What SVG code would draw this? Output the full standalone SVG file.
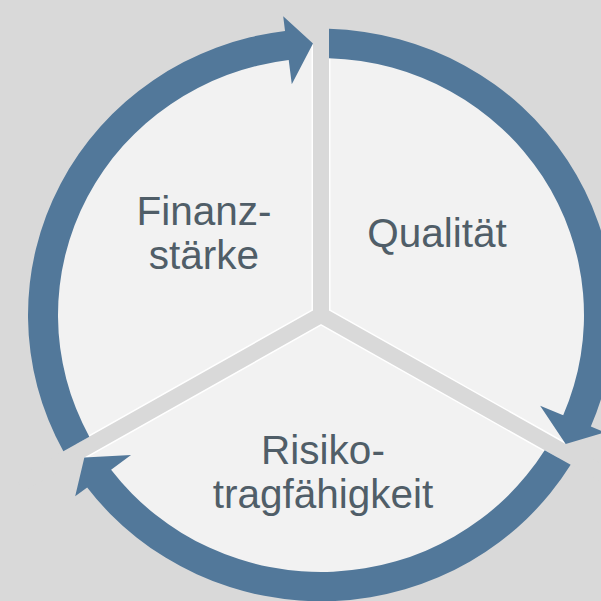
<svg xmlns="http://www.w3.org/2000/svg" width="601" height="601" viewBox="0 0 601 601">
  <style>
    .lbl { font-family: "Liberation Sans", Arial, sans-serif; font-size: 40.5px; fill: #505e68; text-anchor: middle; }
    .arrow { fill: #52789a; }
    .edge { stroke: #ffffff; stroke-width: 19; stroke-linecap: round; fill: none; }
    .gap { stroke: #d9d9d9; stroke-width: 16; stroke-linecap: round; fill: none; }
  </style>
  <defs>
    <clipPath id="discClip">
      <circle cx="0" cy="0" r="278"/>
    </clipPath>
  </defs>
  <rect width="601" height="601" fill="#d9d9d9"/>
  <g transform="translate(321,315) scale(1,0.977)">
    <g id="disc">
      <circle cx="0" cy="0" r="278" fill="#f2f2f2"/>
      <g clip-path="url(#discClip)">
        <path class="edge" d="M0,0 L0,-330 M0,0 L285.8,165 M0,0 L-285.8,165"/>
      </g>
      <path class="gap" d="M0,0 L0,-340 M0,0 L294.4,170 M0,0 L-294.4,170"/>
    </g>
    <g id="connectors">
      <path class="arrow" d="M-257.65,139.52 A293,293 0 0 1 -35.96,-290.78 L-37.80,-305.67 L-8.00,-277.89 L-29.21,-236.20 L-32.28,-261.01 A263,263 0 0 0 -231.66,124.51 Z"/>
      <path class="arrow" d="M8.00,-292.89 A293,293 0 0 1 269.81,114.25 L283.62,120.10 L244.66,132.01 L219.16,92.80 L242.18,102.55 A263,263 0 0 0 8.00,-262.88 Z"/>
      <path class="arrow" d="M249.67,153.38 A293,293 0 0 1 -233.84,176.54 L-245.81,185.58 L-236.65,145.87 L-189.95,143.40 L-209.90,158.47 A263,263 0 0 0 223.67,138.35 Z"/>
    </g>
  </g>
  <g id="node-finanzstaerke">
    <text class="lbl" x="204" y="225">Finanz-</text>
    <text class="lbl" x="204" y="269">stärke</text>
  </g>
  <g id="node-qualitaet">
    <text class="lbl" x="437" y="247">Qualität</text>
  </g>
  <g id="node-risikotragfaehigkeit">
    <text class="lbl" x="323" y="464">Risiko-</text>
    <text class="lbl" x="323" y="508">tragfähigkeit</text>
  </g>
</svg>
